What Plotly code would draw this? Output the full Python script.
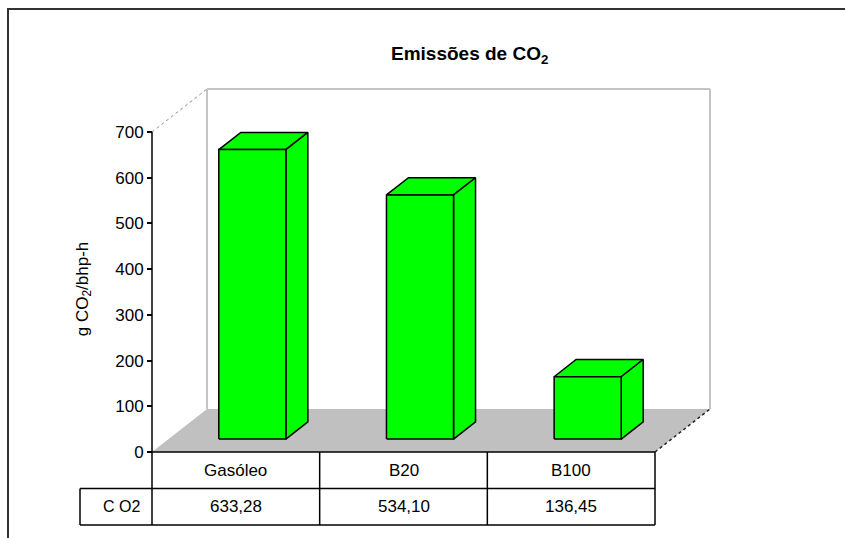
import plotly.graph_objects as go

# ---- data ----
categories = ["Gasóleo", "B20", "B100"]
co2_values = [633.28, 534.10, 136.45]
series_name = "C O2"
y_ticks = [0, 100, 200, 300, 400, 500, 600, 700]
chart_title = "<b>Emissões de CO<sub>2</sub></b>"
y_title = "g CO<sub>2</sub>/bhp-h"

# ---- layout geometry (figure pixels) ----
W, H = 845, 538
X0_PX, Y0_PX = 152, 452          # pixel position of the front-left floor corner
PX_PER_CAT = 503 / 3             # one category column in pixels
PX_PER_VAL = 320 / 700           # one value unit in pixels
DEPTH_PX = (55, 43)              # 3-D depth offset (right, up)

DX = DEPTH_PX[0] / PX_PER_CAT    # depth offset in x units
DY = DEPTH_PX[1] / PX_PER_VAL    # depth offset in value units
YMAX = max(y_ticks)
N = len(categories)
XL, XR = -0.5, N - 0.5
BAR_W = 0.4
F_FRONT, F_BACK = 0.3, 0.7       # bar position inside the depth
ROW_H = 36.5 / PX_PER_VAL        # data table row height
LABEL_W = 72 / PX_PER_CAT        # width of the series-name column

x_range = [XL - X0_PX / PX_PER_CAT, XL + (W - X0_PX) / PX_PER_CAT]
y_range = [-(H - Y0_PX) / PX_PER_VAL, Y0_PX / PX_PER_VAL]

GREEN = "#00ff00"
WALL_EDGE = "#c4c4c4"
FLOOR = "#c0c0c0"
FONT = "Liberation Sans, Arial, sans-serif"

fig = go.Figure()


def poly(xs, ys, fill, line_color=None, width=0):
    fig.add_trace(go.Scatter(
        x=xs + [xs[0]], y=ys + [ys[0]], mode="lines", fill="toself",
        fillcolor=fill,
        line=dict(color=line_color or fill, width=width),
        hoverinfo="skip", showlegend=False))


def seg(x0, y0, x1, y1, color="black", width=1.5, dash="solid"):
    fig.add_shape(type="line", xref="x", yref="y", x0=x0, y0=y0, x1=x1, y1=y1,
                  line=dict(color=color, width=width, dash=dash))


# back wall
poly([XL + DX, XR + DX, XR + DX, XL + DX], [DY, DY, YMAX + DY, YMAX + DY], "white")
seg(XL + DX, YMAX + DY, XR + DX, YMAX + DY, WALL_EDGE, 2)
seg(XL + DX, DY, XL + DX, YMAX + DY, WALL_EDGE, 2)
seg(XR + DX, DY, XR + DX, YMAX + DY, WALL_EDGE, 2)
seg(XL, YMAX, XL + DX, YMAX + DY, "#8c8c8c", 1, "dot")

# floor
poly([XL, XR, XR + DX, XL + DX], [0, 0, DY, DY], FLOOR)
seg(XR, 0, XR + DX, DY, "#222222", 1.5, "dot")

# 3-D bars
for i, v in enumerate(co2_values):
    fl = i - BAR_W / 2 + F_FRONT * DX
    fr = i + BAR_W / 2 + F_FRONT * DX
    fb = F_FRONT * DY
    bl = i - BAR_W / 2 + F_BACK * DX
    br = i + BAR_W / 2 + F_BACK * DX
    bb = F_BACK * DY
    top_f, top_b = v + fb, v + bb
    # top face
    poly([fl, fr, br, bl], [top_f, top_f, top_b, top_b], GREEN, "black", 1.5)
    # right side face
    poly([fr, br, br, fr], [top_f, top_b, bb, fb], GREEN, "black", 1.5)
    # front face
    poly([fl, fr, fr, fl], [fb, fb, top_f, top_f], GREEN, "black", 1.5)

# data table grid
seg(XL, 0, XR, 0)
seg(XL - LABEL_W, -ROW_H, XR, -ROW_H)
seg(XL - LABEL_W, -2 * ROW_H, XR, -2 * ROW_H)
seg(XL - LABEL_W, -ROW_H, XL - LABEL_W, -2 * ROW_H)
seg(XL, YMAX, XL, -2 * ROW_H)          # value axis line running into the table
for k in range(1, N + 1):
    seg(XL + k, 0, XL + k, -2 * ROW_H)

# table text
for i, (c, v) in enumerate(zip(categories, co2_values)):
    fig.add_annotation(x=i, y=-ROW_H / 2, text=c, showarrow=False,
                       font=dict(size=17, color="black", family=FONT))
    fig.add_annotation(x=i, y=-1.5 * ROW_H, text=f"{v:.2f}".replace(".", ","),
                       showarrow=False,
                       font=dict(size=17, color="black", family=FONT))
fig.add_annotation(x=XL - 10 / PX_PER_CAT, y=-1.5 * ROW_H, text=series_name,
                   xanchor="right", showarrow=False,
                   font=dict(size=16, color="black", family=FONT))

# titles
fig.add_annotation(xref="paper", yref="paper", x=469 / W, y=1 - 55 / H,
                   text=chart_title, showarrow=False, xanchor="center",
                   yanchor="middle", font=dict(size=19, color="black", family=FONT))
fig.add_annotation(xref="paper", yref="y", x=84 / W, y=YMAX / 2 + 6,
                   text=y_title, textangle=-90, showarrow=False,
                   xanchor="center", yanchor="middle",
                   font=dict(size=17, color="black", family=FONT))

# outer chart frame
fig.add_shape(type="rect", xref="paper", yref="paper",
              x0=8 / W, x1=1.02, y0=-0.02, y1=1 - 9 / H,
              line=dict(color="#333333", width=2), layer="above")

fig.update_layout(
    width=W, height=H,
    margin=dict(l=0, r=0, t=0, b=0),
    paper_bgcolor="white", plot_bgcolor="white",
    showlegend=False,
    xaxis=dict(range=x_range, visible=False, fixedrange=True),
    yaxis=dict(range=y_range, anchor="free", position=X0_PX / W,
               tickvals=y_ticks, ticks="outside", ticklen=5, tickwidth=1.5,
               tickcolor="black", showline=False, showgrid=False,
               zeroline=False, fixedrange=True,
               tickfont=dict(size=17, color="black", family=FONT)),
)

fig.write_html("out.html")
